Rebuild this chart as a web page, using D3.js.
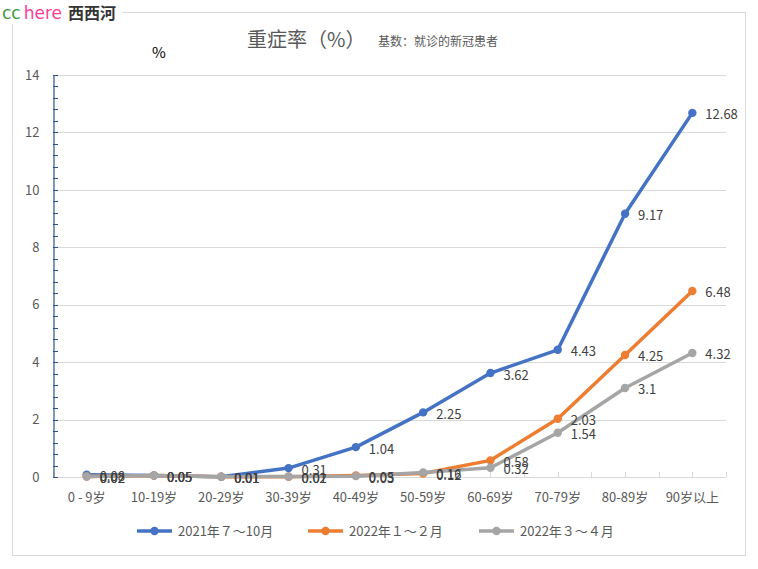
<!DOCTYPE html>
<html><head><meta charset="utf-8">
<script src="https://cdn.jsdelivr.net/npm/d3@7"></script>
<style>
body{margin:0;background:#fff;}
svg{display:block;font-family:"Noto Sans CJK SC","Microsoft YaHei",sans-serif;}
</style></head>
<body><svg id="c" width="758" height="569"></svg>
<script>
const categories = ["0 - 9岁","10-19岁","20-29岁","30-39岁","40-49岁","50-59岁","60-69岁","70-79岁","80-89岁","90岁以上"];
const series2021 = [0.08,0.05,0.01,0.31,1.04,2.25,3.62,4.43,9.17,12.68];
const series2022a = [0.02,0.05,0.01,0.01,0.05,0.12,0.58,2.03,4.25,6.48];
const series2022b = [0.02,0.05,0.01,0.02,0.03,0.16,0.32,1.54,3.1,4.32];
const seriesNames = ["2021年７～10月","2022年１～２月","2022年３～４月"];
const seriesColors = ["#4472C4","#ED7D31","#A5A5A5"];
const yTicks = [0,2,4,6,8,10,12,14];

(function(){
const svg = d3.select("#c");
const pLeft = 53, pRight = 726, pTop = 75, pBottom = 477;

svg.append("rect").attr("x",12.5).attr("y",12.5).attr("width",733).attr("height",543)
  .attr("fill","#fff").attr("stroke","#D9D9D9").attr("stroke-width",1);

const x = d3.scaleBand().domain(categories).range([pLeft,pRight]).padding(0);
const y = d3.scaleLinear().domain([0,14]).range([pBottom,pTop]);

svg.append("g").selectAll("line").data(yTicks.filter(d=>d>0)).join("line")
  .attr("x1",pLeft).attr("x2",pRight).attr("y1",d=>Math.round(y(d))+0.5).attr("y2",d=>Math.round(y(d))+0.5)
  .attr("stroke","#D9D9D9").attr("stroke-width",1);

svg.append("line").attr("x1",pLeft).attr("x2",pRight).attr("y1",pBottom+0.5).attr("y2",pBottom+0.5)
  .attr("stroke","#D9D9D9");
const halfTicks = d3.range(0,categories.length*2+1).map(i=>pLeft + i*x.bandwidth()/2);
svg.append("g").selectAll("line").data(halfTicks).join("line")
  .attr("x1",d=>Math.round(d)+0.5).attr("x2",d=>Math.round(d)+0.5).attr("y1",pBottom-5).attr("y2",pBottom)
  .attr("stroke","#D9D9D9");

svg.append("g").selectAll("text").data(categories).join("text")
  .attr("x",d=>x(d)+x.bandwidth()/2).attr("y",pBottom+25)
  .attr("text-anchor","middle").attr("font-size",13).attr("fill","#595959").text(d=>d);

const yAxis = d3.axisLeft(y).tickValues(yTicks).tickSize(0).tickPadding(14).tickFormat(d3.format("d"));
const ya = svg.append("g").attr("transform",`translate(${pLeft+0.5},0)`).call(yAxis);
ya.select(".domain").attr("stroke","#2F4F8F").attr("stroke-width",1.2);
ya.selectAll("text").attr("font-size",13).attr("fill","#595959").attr("font-family","'Noto Sans CJK SC',sans-serif");
const minor = d3.range(0,14.0001,0.4);
svg.append("g").selectAll("line").data(minor).join("line")
  .attr("x1",pLeft).attr("x2",pLeft+5).attr("y1",d=>Math.round(y(d))+0.5).attr("y2",d=>Math.round(y(d))+0.5)
  .attr("stroke","#2F4F8F").attr("stroke-width",1);

const allSeries = [series2021,series2022a,series2022b];
const line = d3.line().x((d,i)=>x(categories[i])+x.bandwidth()/2).y(d=>y(d));
allSeries.forEach((s,k)=>{
  svg.append("path").datum(s).attr("d",line).attr("fill","none")
    .attr("stroke",seriesColors[k]).attr("stroke-width",3.5).attr("stroke-linejoin","round").attr("stroke-linecap","round");
  svg.append("g").selectAll("circle").data(s).join("circle")
    .attr("cx",(d,i)=>x(categories[i])+x.bandwidth()/2).attr("cy",d=>y(d)).attr("r",4.2)
    .attr("fill",seriesColors[k]);
});
allSeries.forEach((s,k)=>{
  svg.append("g").selectAll("text").data(s).join("text")
    .attr("x",(d,i)=>x(categories[i])+x.bandwidth()/2+13).attr("y",d=>y(d)+6.5)
    .attr("font-size",13).attr("fill","#404040").text(d=>d);
});

svg.append("text").attr("x",247).attr("y",47).attr("font-size",20).attr("fill","#595959").text("重症率（%）");
svg.append("text").attr("x",378).attr("y",46).attr("font-size",12).attr("fill","#595959").text("基数：就诊的新冠患者");
svg.append("text").attr("x",152).attr("y",58).attr("font-size",15).attr("fill","#000").text("%");

const legX = [137,308,479];
seriesNames.forEach((n,k)=>{
  const g = svg.append("g").attr("transform",`translate(${legX[k]},531)`);
  g.append("line").attr("x1",0).attr("x2",35).attr("y1",0).attr("y2",0).attr("stroke",seriesColors[k]).attr("stroke-width",3.5);
  g.append("circle").attr("cx",17.5).attr("cy",0).attr("r",4.2).attr("fill",seriesColors[k]);
  g.append("text").attr("x",41).attr("y",5).attr("font-size",13).attr("fill","#595959").text(n);
});

svg.append("rect").attr("x",0).attr("y",0).attr("width",122).attr("height",24).attr("fill","#fff");
const wm = svg.append("text").attr("x",2).attr("y",19).attr("font-size",17).attr("font-family","'DejaVu Sans',sans-serif");
wm.append("tspan").attr("fill","#3c9a3c").text("cc");
wm.append("tspan").attr("fill","#ff3c96").attr("dx",3).text("here");
wm.append("tspan").attr("fill","#333").attr("font-weight","bold").attr("font-size",16).attr("dx",6)
  .attr("font-family","'Noto Sans CJK SC',sans-serif").text("西西河");
})();
</script></body></html>
